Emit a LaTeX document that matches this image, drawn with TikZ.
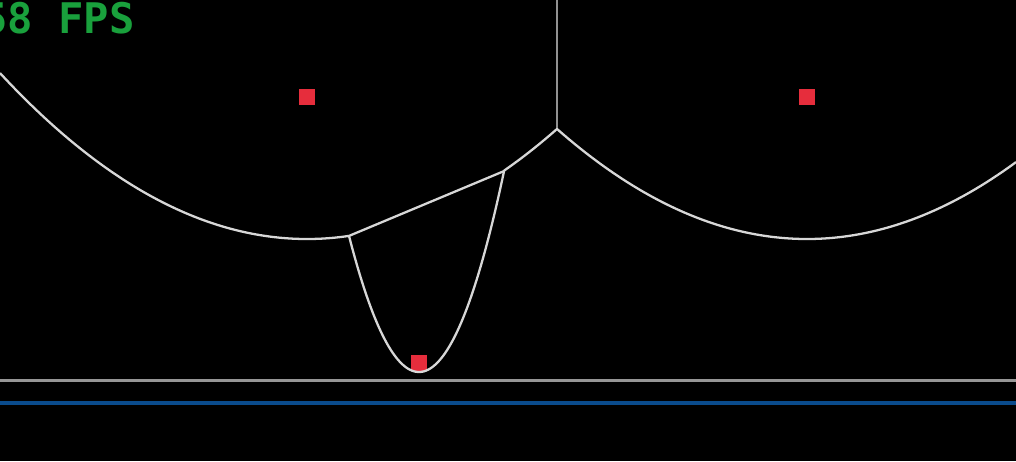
\documentclass[tikz,border=0pt]{standalone}
\usepackage{fontspec}
\newfontfamily\lcdfont{DejaVu Sans Mono}
\usetikzlibrary{positioning}

\definecolor{siteRed}{RGB}{230,45,60}
\definecolor{beachGray}{RGB}{215,215,215}
\definecolor{edgeGray}{RGB}{145,145,145}
\definecolor{sweepGray}{RGB}{150,150,150}
\definecolor{floorBlue}{RGB}{10,75,140}
\definecolor{fpsGreen}{RGB}{25,160,60}

\begin{document}
\begin{tikzpicture}[
    x=0.02cm, y=-0.02cm,
    site/.style={rectangle, minimum size=0.32cm, inner sep=0pt, fill=siteRed},
    beach/.style={draw=beachGray, line width=1.3pt, line join=round},
    vedge/.style={draw=edgeGray, line width=1.5pt},
    sweep/.style={draw=sweepGray, line width=2pt},
    fps/.style={font=\lcdfont\bfseries\fontsize{24}{24}\selectfont, text=fpsGreen, inner sep=0pt}
]
    \fill[black] (0,0) rectangle (1016,461);
    \useasboundingbox (0,0) rectangle (1016,461);

    % Sites
    \node[site] (siteA) at (307, 97) {};
    \node[site] (siteB) at (807, 97) {};
    \node[site] (siteC) at (419, 363) {};

    % Voronoi vertices and breakpoints
    \coordinate (top) at (557, 0);
    \coordinate (vAB) at (557, 129);
    \coordinate (bpL) at (349, 235.9);
    \coordinate (bpR) at (504.2, 171);

    % Edges
    \draw[vedge] (top) -- (vAB);
    \draw[beach] (bpL) -- (bpR);

    % Beach line (values scaled by 10 to stay small)
    \draw[beach, samples=80]
        plot[domain=0:349] (\x, {239-((\x-307)/10)^2/5.68})
        -- plot[domain=349:504.2] (\x, {372-((\x-419)/10)^2/0.36})
        -- plot[domain=504.2:557] (\x, {239-((\x-307)/10)^2/5.68})
        -- plot[domain=557:1016] (\x, {239-((\x-807)/10)^2/5.68});

    % Sweep line and floor
    \coordinate (sweepL) at (0, 380.5);
    \coordinate (sweepR) at (1016, 380.5);
    \coordinate (floorL) at (0, 403);
    \coordinate (floorR) at (1016, 403);
    \draw[sweep] (sweepL) -- (sweepR);
    \draw[draw=floorBlue, line width=2pt] (floorL) -- (floorR);

    % Frame counter
    \node[fps, anchor=west] (counter) at (-18, 18) {58 FPS};

\end{tikzpicture}
\end{document}
